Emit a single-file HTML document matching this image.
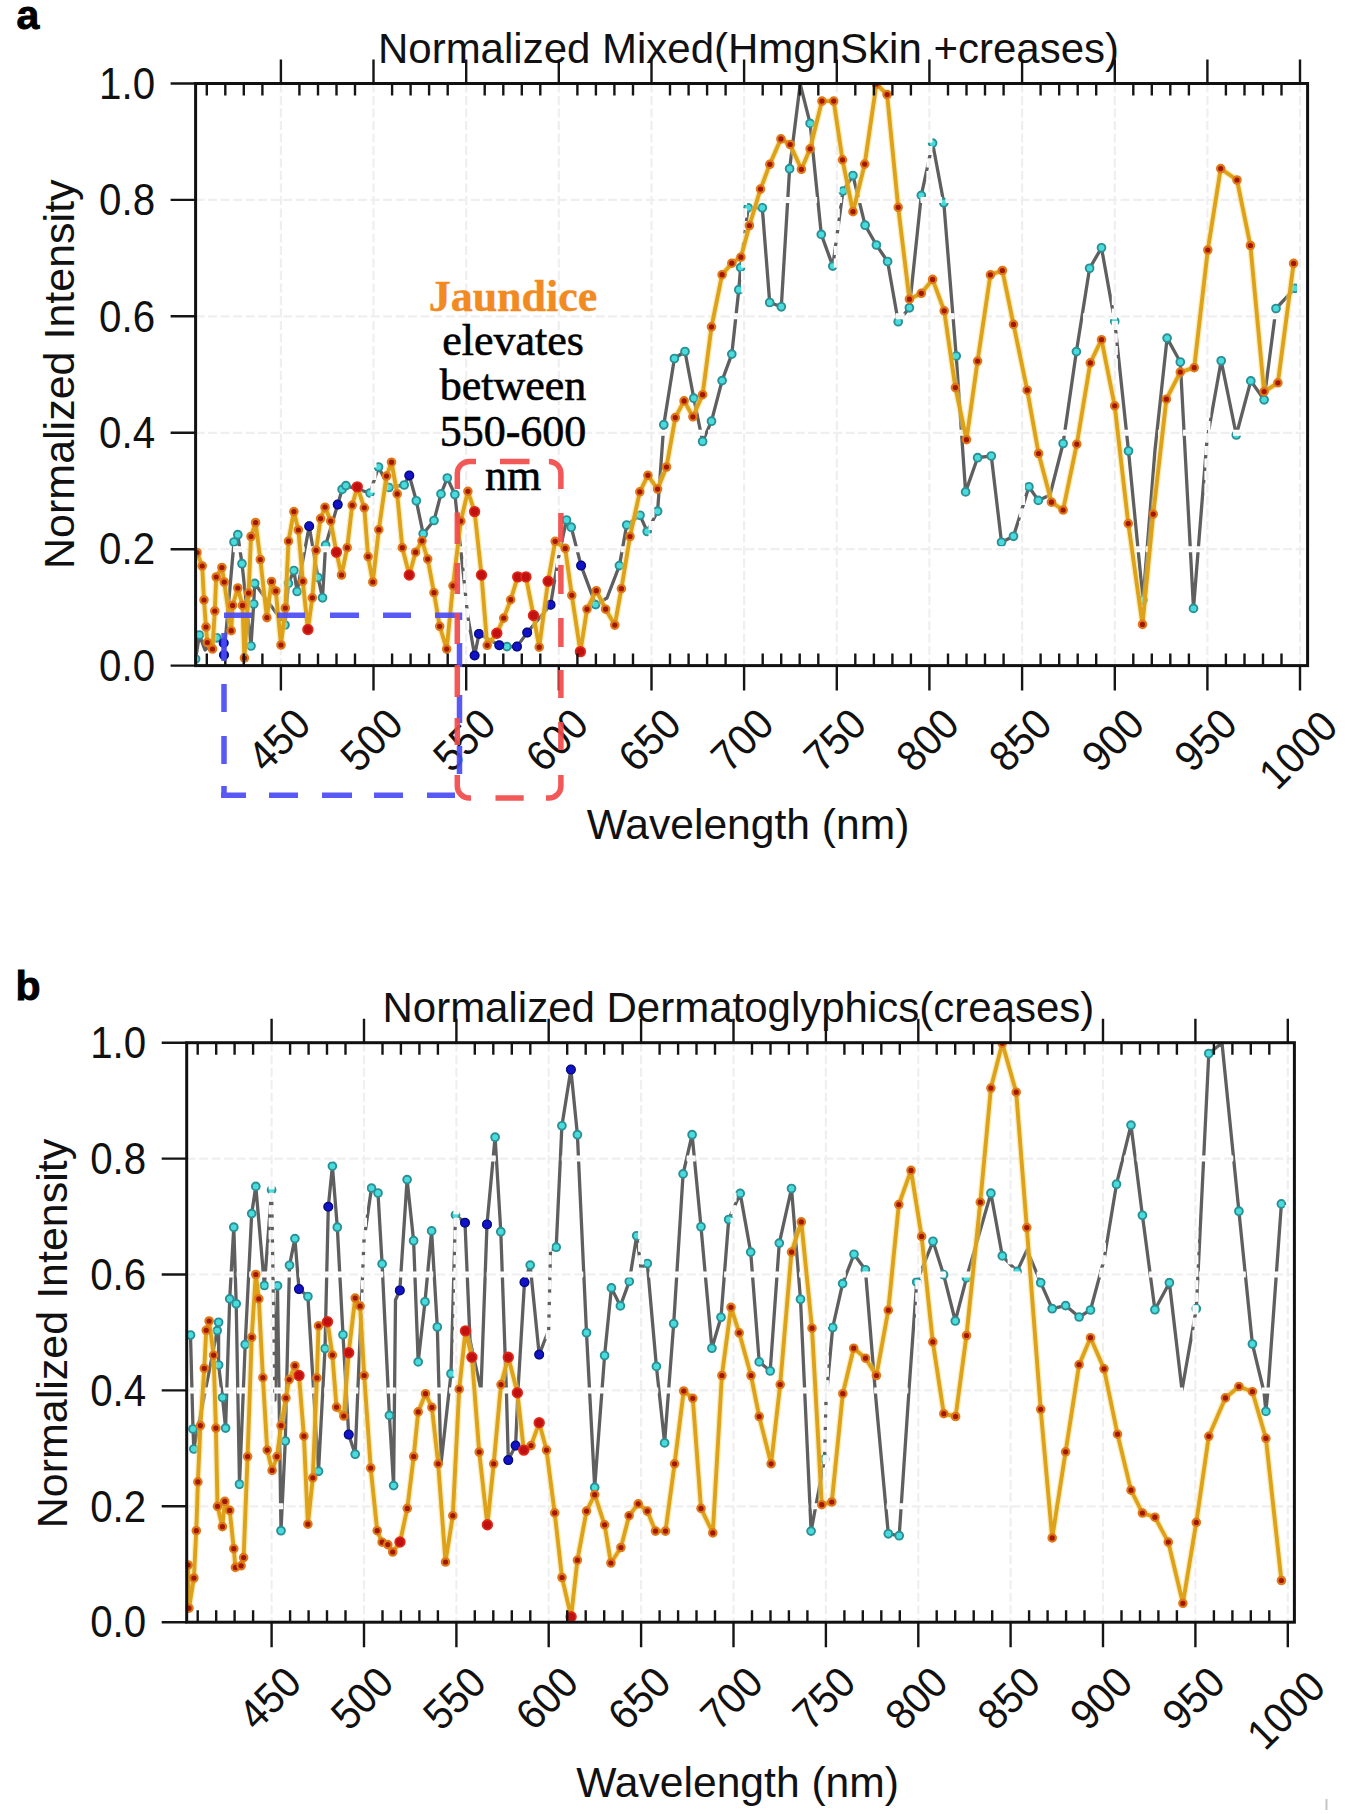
<!DOCTYPE html><html><head><meta charset="utf-8"><style>html,body{margin:0;padding:0;background:#fff;width:1350px;height:1814px;overflow:hidden}svg{display:block}</style></head><body><svg width="1350" height="1814" viewBox="0 0 1350 1814">
<style>.s{font-family:"Liberation Sans",sans-serif;font-size:42px;fill:#111}.r{font-family:"Liberation Serif",serif;font-size:44px;fill:#000;stroke:#000;stroke-width:0.6}</style>
<rect width="1350" height="1814" fill="#fff"/>
<defs><clipPath id="clipa"><rect x="194.6" y="82.5" width="1114.0" height="584.1"/></clipPath><clipPath id="clipb"><rect x="185.7" y="1041.7" width="1109.7" height="581.5"/></clipPath></defs>
<g clip-path="url(#clipa)">
<path d="M195.6 659.0 L199.4 635.0 L205.0 650.0 L216.7 637.8 L223.7 643.0 L224.0 655.0 L234.0 542.0 L237.8 534.7 L242.0 563.7 L251.0 646.0 L253.7 604.0 L254.7 583.4 L285.0 625.0 L288.4 583.4 L293.9 570.5 L297.1 591.5 L309.2 526.2 L318.0 577.5 L322.5 597.8 L325.6 545.2 L337.7 504.6 L342.1 489.4 L345.9 485.6 L370.0 493.0 L378.5 467.0 L389.0 487.5 L404.2 485.0 L409.3 475.5 L416.3 500.8 L423.2 533.8 L434.0 520.5 L441.0 493.9 L447.3 478.0 L454.9 494.5 L464.0 580.0 L467.6 615.0 L474.6 655.5 L479.0 633.9 L499.3 645.3 L506.9 646.6 L517.0 646.6 L527.2 632.6 L550.6 604.8 L558.0 560.0 L566.5 520.0 L571.2 527.2 L581.1 565.6 L595.6 604.6 L607.0 598.0 L619.4 565.6 L626.7 525.0 L640.0 515.3 L647.2 531.5 L657.6 511.2 L663.8 424.7 L674.4 358.5 L685.0 351.5 L693.8 398.2 L702.6 441.5 L711.5 421.2 L722.1 380.6 L731.8 354.1 L738.8 289.7 L740.6 267.6 L748.1 207.8 L762.3 207.8 L769.7 302.5 L781.3 306.8 L789.6 168.7 L800.2 84.0 L810.1 123.4 L821.3 234.4 L832.8 266.1 L843.0 191.0 L852.9 175.5 L865.1 225.2 L876.4 245.0 L887.6 261.5 L898.2 321.7 L909.4 307.8 L921.3 195.4 L932.6 143.1 L943.8 202.7 L956.2 356.0 L965.6 491.9 L977.6 457.7 L991.3 456.0 L1001.5 542.3 L1013.5 536.3 L1028.9 486.8 L1038.3 500.4 L1050.0 495.0 L1063.1 443.5 L1076.4 351.6 L1089.6 268.3 L1101.5 247.8 L1114.7 321.2 L1128.5 451.0 L1143.0 600.0 L1155.0 450.0 L1167.1 338.1 L1180.3 362.0 L1193.5 608.4 L1207.0 440.0 L1221.2 360.8 L1236.3 435.0 L1250.8 380.9 L1264.1 399.8 L1276.0 308.5 L1294.9 288.3" stroke="#5f5f5f" stroke-width="3.3" fill="none" stroke-linejoin="round" />
<g fill="#4adcdc" stroke="#2a9096" stroke-width="1.9"><circle cx="195.6" cy="659.0" r="3.9"/><circle cx="199.4" cy="635.0" r="3.9"/><circle cx="216.7" cy="637.8" r="3.9"/><circle cx="223.7" cy="643.0" r="3.9"/><circle cx="224.0" cy="655.0" r="3.9"/><circle cx="234.0" cy="542.0" r="3.9"/><circle cx="237.8" cy="534.7" r="3.9"/><circle cx="242.0" cy="563.7" r="3.9"/><circle cx="251.0" cy="646.0" r="3.9"/><circle cx="253.7" cy="604.0" r="3.9"/><circle cx="254.7" cy="583.4" r="3.9"/><circle cx="285.0" cy="625.0" r="3.9"/><circle cx="288.4" cy="583.4" r="3.9"/><circle cx="293.9" cy="570.5" r="3.9"/><circle cx="297.1" cy="591.5" r="3.9"/><circle cx="309.2" cy="526.2" r="3.9"/><circle cx="318.0" cy="577.5" r="3.9"/><circle cx="322.5" cy="597.8" r="3.9"/><circle cx="325.6" cy="545.2" r="3.9"/><circle cx="337.7" cy="504.6" r="3.9"/><circle cx="342.1" cy="489.4" r="3.9"/><circle cx="345.9" cy="485.6" r="3.9"/><circle cx="370.0" cy="493.0" r="3.9"/><circle cx="378.5" cy="467.0" r="3.9"/><circle cx="389.0" cy="487.5" r="3.9"/><circle cx="404.2" cy="485.0" r="3.9"/><circle cx="409.3" cy="475.5" r="3.9"/><circle cx="416.3" cy="500.8" r="3.9"/><circle cx="423.2" cy="533.8" r="3.9"/><circle cx="434.0" cy="520.5" r="3.9"/><circle cx="441.0" cy="493.9" r="3.9"/><circle cx="447.3" cy="478.0" r="3.9"/><circle cx="454.9" cy="494.5" r="3.9"/><circle cx="474.6" cy="655.5" r="3.9"/><circle cx="479.0" cy="633.9" r="3.9"/><circle cx="499.3" cy="645.3" r="3.9"/><circle cx="506.9" cy="646.6" r="3.9"/><circle cx="517.0" cy="646.6" r="3.9"/><circle cx="527.2" cy="632.6" r="3.9"/><circle cx="550.6" cy="604.8" r="3.9"/><circle cx="566.5" cy="520.0" r="3.9"/><circle cx="571.2" cy="527.2" r="3.9"/><circle cx="581.1" cy="565.6" r="3.9"/><circle cx="595.6" cy="604.6" r="3.9"/><circle cx="619.4" cy="565.6" r="3.9"/><circle cx="626.7" cy="525.0" r="3.9"/><circle cx="640.0" cy="515.3" r="3.9"/><circle cx="647.2" cy="531.5" r="3.9"/><circle cx="657.6" cy="511.2" r="3.9"/><circle cx="663.8" cy="424.7" r="3.9"/><circle cx="674.4" cy="358.5" r="3.9"/><circle cx="685.0" cy="351.5" r="3.9"/><circle cx="693.8" cy="398.2" r="3.9"/><circle cx="702.6" cy="441.5" r="3.9"/><circle cx="711.5" cy="421.2" r="3.9"/><circle cx="722.1" cy="380.6" r="3.9"/><circle cx="731.8" cy="354.1" r="3.9"/><circle cx="738.8" cy="289.7" r="3.9"/><circle cx="740.6" cy="267.6" r="3.9"/><circle cx="748.1" cy="207.8" r="3.9"/><circle cx="762.3" cy="207.8" r="3.9"/><circle cx="769.7" cy="302.5" r="3.9"/><circle cx="781.3" cy="306.8" r="3.9"/><circle cx="789.6" cy="168.7" r="3.9"/><circle cx="810.1" cy="123.4" r="3.9"/><circle cx="821.3" cy="234.4" r="3.9"/><circle cx="832.8" cy="266.1" r="3.9"/><circle cx="843.0" cy="191.0" r="3.9"/><circle cx="852.9" cy="175.5" r="3.9"/><circle cx="865.1" cy="225.2" r="3.9"/><circle cx="876.4" cy="245.0" r="3.9"/><circle cx="887.6" cy="261.5" r="3.9"/><circle cx="898.2" cy="321.7" r="3.9"/><circle cx="909.4" cy="307.8" r="3.9"/><circle cx="921.3" cy="195.4" r="3.9"/><circle cx="932.6" cy="143.1" r="3.9"/><circle cx="943.8" cy="202.7" r="3.9"/><circle cx="956.2" cy="356.0" r="3.9"/><circle cx="965.6" cy="491.9" r="3.9"/><circle cx="977.6" cy="457.7" r="3.9"/><circle cx="991.3" cy="456.0" r="3.9"/><circle cx="1001.5" cy="542.3" r="3.9"/><circle cx="1013.5" cy="536.3" r="3.9"/><circle cx="1028.9" cy="486.8" r="3.9"/><circle cx="1038.3" cy="500.4" r="3.9"/><circle cx="1063.1" cy="443.5" r="3.9"/><circle cx="1076.4" cy="351.6" r="3.9"/><circle cx="1089.6" cy="268.3" r="3.9"/><circle cx="1101.5" cy="247.8" r="3.9"/><circle cx="1114.7" cy="321.2" r="3.9"/><circle cx="1128.5" cy="451.0" r="3.9"/><circle cx="1143.0" cy="600.0" r="3.9"/><circle cx="1167.1" cy="338.1" r="3.9"/><circle cx="1180.3" cy="362.0" r="3.9"/><circle cx="1193.5" cy="608.4" r="3.9"/><circle cx="1221.2" cy="360.8" r="3.9"/><circle cx="1236.3" cy="435.0" r="3.9"/><circle cx="1250.8" cy="380.9" r="3.9"/><circle cx="1264.1" cy="399.8" r="3.9"/><circle cx="1276.0" cy="308.5" r="3.9"/><circle cx="1294.9" cy="288.3" r="3.9"/></g>
<g fill="#1212c8" stroke="#0a0a80" stroke-width="1.4"><circle cx="223.7" cy="643.0" r="4.3"/><circle cx="224.0" cy="655.0" r="4.3"/><circle cx="309.2" cy="526.2" r="4.3"/><circle cx="337.7" cy="504.6" r="4.3"/><circle cx="409.3" cy="475.5" r="4.3"/><circle cx="474.6" cy="655.5" r="4.3"/><circle cx="479.0" cy="633.9" r="4.3"/><circle cx="499.3" cy="645.3" r="4.3"/><circle cx="517.0" cy="646.6" r="4.3"/><circle cx="527.2" cy="632.6" r="4.3"/><circle cx="550.6" cy="604.8" r="4.3"/><circle cx="581.1" cy="565.6" r="4.3"/></g>
<path d="M280.9 83.5V665.6M373.5 83.5V665.6M466.2 83.5V665.6M558.8 83.5V665.6M651.5 83.5V665.6M744.1 83.5V665.6M836.8 83.5V665.6M929.4 83.5V665.6M1022.1 83.5V665.6M1114.8 83.5V665.6M1207.4 83.5V665.6M1300.0 83.5V665.6M195.6 549.2H1307.6M195.6 432.8H1307.6M195.6 316.3H1307.6M195.6 199.9H1307.6" stroke="#fff" stroke-width="6" stroke-dasharray="9 3.5" fill="none"/>
<path d="M280.9 83.5V665.6M373.5 83.5V665.6M466.2 83.5V665.6M558.8 83.5V665.6M651.5 83.5V665.6M744.1 83.5V665.6M836.8 83.5V665.6M929.4 83.5V665.6M1022.1 83.5V665.6M1114.8 83.5V665.6M1207.4 83.5V665.6M1300.0 83.5V665.6M195.6 549.2H1307.6M195.6 432.8H1307.6M195.6 316.3H1307.6M195.6 199.9H1307.6" stroke="#efefef" stroke-width="2.2" stroke-dasharray="9 3.5" fill="none"/>
<path d="M197.0 552.5 L202.2 566.0 L204.0 600.0 L206.0 627.0 L207.3 642.5 L212.5 649.0 L214.8 611.0 L216.2 577.0 L221.9 567.5 L224.2 582.0 L231.2 630.7 L232.6 605.4 L237.8 588.0 L242.5 605.4 L244.4 658.0 L248.6 593.0 L251.0 536.5 L255.6 522.5 L260.3 559.5 L266.9 617.6 L271.5 581.5 L275.8 591.0 L281.0 645.0 L285.3 608.0 L288.5 541.2 L293.9 511.6 L298.4 530.0 L302.8 581.3 L307.9 629.5 L312.3 597.8 L316.1 550.3 L320.6 518.6 L325.0 507.2 L330.7 521.1 L336.4 552.2 L341.5 575.0 L347.2 547.7 L352.2 505.3 L357.3 486.9 L364.3 507.8 L368.1 556.6 L372.8 582.0 L378.8 529.7 L386.5 476.1 L391.5 462.2 L397.2 493.9 L402.3 547.7 L409.3 575.0 L415.6 552.2 L422.0 540.8 L427.7 559.1 L434.0 592.7 L439.7 626.3 L446.7 649.1 L453.0 585.8 L460.8 521.1 L467.9 491.3 L474.6 511.6 L481.5 575.0 L487.2 645.3 L496.8 633.3 L503.7 618.1 L510.7 599.7 L517.7 576.9 L525.9 576.9 L533.5 615.5 L539.2 647.2 L548.1 581.3 L555.2 541.3 L565.2 548.4 L571.8 595.3 L580.4 651.6 L587.0 609.2 L596.3 590.7 L605.6 609.2 L614.8 625.1 L621.4 588.7 L630.0 536.5 L639.8 491.8 L647.9 475.3 L657.6 489.1 L666.5 467.0 L675.3 417.6 L684.1 400.9 L692.9 416.8 L702.6 394.7 L711.5 326.8 L722.1 274.7 L731.8 263.2 L740.9 257.2 L749.4 225.5 L760.5 189.1 L769.8 164.3 L780.9 138.9 L790.2 144.5 L801.4 169.3 L810.1 148.8 L821.9 101.1 L833.7 101.1 L842.5 159.8 L853.0 211.7 L864.7 164.1 L876.4 84.0 L887.1 94.6 L898.2 207.3 L909.4 299.2 L921.3 293.3 L932.6 279.4 L944.2 310.8 L955.4 387.6 L966.5 439.7 L977.6 361.1 L990.4 274.8 L1002.4 270.5 L1013.5 324.4 L1027.2 390.2 L1038.6 453.5 L1051.5 502.2 L1063.1 510.0 L1076.8 444.2 L1090.3 362.9 L1101.5 339.7 L1114.7 405.8 L1128.3 523.6 L1142.5 624.4 L1153.2 514.1 L1166.4 399.2 L1180.3 372.1 L1194.2 367.7 L1207.8 250.0 L1220.7 168.6 L1237.0 180.0 L1250.4 245.5 L1264.1 391.6 L1277.9 382.8 L1293.6 263.4" stroke="#f4dc78" stroke-width="6.5" fill="none" stroke-linejoin="round" opacity="0.5"/>
<path d="M197.0 552.5 L202.2 566.0 L204.0 600.0 L206.0 627.0 L207.3 642.5 L212.5 649.0 L214.8 611.0 L216.2 577.0 L221.9 567.5 L224.2 582.0 L231.2 630.7 L232.6 605.4 L237.8 588.0 L242.5 605.4 L244.4 658.0 L248.6 593.0 L251.0 536.5 L255.6 522.5 L260.3 559.5 L266.9 617.6 L271.5 581.5 L275.8 591.0 L281.0 645.0 L285.3 608.0 L288.5 541.2 L293.9 511.6 L298.4 530.0 L302.8 581.3 L307.9 629.5 L312.3 597.8 L316.1 550.3 L320.6 518.6 L325.0 507.2 L330.7 521.1 L336.4 552.2 L341.5 575.0 L347.2 547.7 L352.2 505.3 L357.3 486.9 L364.3 507.8 L368.1 556.6 L372.8 582.0 L378.8 529.7 L386.5 476.1 L391.5 462.2 L397.2 493.9 L402.3 547.7 L409.3 575.0 L415.6 552.2 L422.0 540.8 L427.7 559.1 L434.0 592.7 L439.7 626.3 L446.7 649.1 L453.0 585.8 L460.8 521.1 L467.9 491.3 L474.6 511.6 L481.5 575.0 L487.2 645.3 L496.8 633.3 L503.7 618.1 L510.7 599.7 L517.7 576.9 L525.9 576.9 L533.5 615.5 L539.2 647.2 L548.1 581.3 L555.2 541.3 L565.2 548.4 L571.8 595.3 L580.4 651.6 L587.0 609.2 L596.3 590.7 L605.6 609.2 L614.8 625.1 L621.4 588.7 L630.0 536.5 L639.8 491.8 L647.9 475.3 L657.6 489.1 L666.5 467.0 L675.3 417.6 L684.1 400.9 L692.9 416.8 L702.6 394.7 L711.5 326.8 L722.1 274.7 L731.8 263.2 L740.9 257.2 L749.4 225.5 L760.5 189.1 L769.8 164.3 L780.9 138.9 L790.2 144.5 L801.4 169.3 L810.1 148.8 L821.9 101.1 L833.7 101.1 L842.5 159.8 L853.0 211.7 L864.7 164.1 L876.4 84.0 L887.1 94.6 L898.2 207.3 L909.4 299.2 L921.3 293.3 L932.6 279.4 L944.2 310.8 L955.4 387.6 L966.5 439.7 L977.6 361.1 L990.4 274.8 L1002.4 270.5 L1013.5 324.4 L1027.2 390.2 L1038.6 453.5 L1051.5 502.2 L1063.1 510.0 L1076.8 444.2 L1090.3 362.9 L1101.5 339.7 L1114.7 405.8 L1128.3 523.6 L1142.5 624.4 L1153.2 514.1 L1166.4 399.2 L1180.3 372.1 L1194.2 367.7 L1207.8 250.0 L1220.7 168.6 L1237.0 180.0 L1250.4 245.5 L1264.1 391.6 L1277.9 382.8 L1293.6 263.4" stroke="#dea21a" stroke-width="3.9" fill="none" stroke-linejoin="round" />
<g fill="#a01800" stroke="#e07818" stroke-width="2.2"><circle cx="197.0" cy="552.5" r="3.7"/><circle cx="202.2" cy="566.0" r="3.7"/><circle cx="204.0" cy="600.0" r="3.7"/><circle cx="206.0" cy="627.0" r="3.7"/><circle cx="207.3" cy="642.5" r="3.7"/><circle cx="212.5" cy="649.0" r="3.7"/><circle cx="214.8" cy="611.0" r="3.7"/><circle cx="216.2" cy="577.0" r="3.7"/><circle cx="221.9" cy="567.5" r="3.7"/><circle cx="224.2" cy="582.0" r="3.7"/><circle cx="231.2" cy="630.7" r="3.7"/><circle cx="232.6" cy="605.4" r="3.7"/><circle cx="237.8" cy="588.0" r="3.7"/><circle cx="242.5" cy="605.4" r="3.7"/><circle cx="244.4" cy="658.0" r="3.7"/><circle cx="248.6" cy="593.0" r="3.7"/><circle cx="251.0" cy="536.5" r="3.7"/><circle cx="255.6" cy="522.5" r="3.7"/><circle cx="260.3" cy="559.5" r="3.7"/><circle cx="266.9" cy="617.6" r="3.7"/><circle cx="271.5" cy="581.5" r="3.7"/><circle cx="275.8" cy="591.0" r="3.7"/><circle cx="281.0" cy="645.0" r="3.7"/><circle cx="285.3" cy="608.0" r="3.7"/><circle cx="288.5" cy="541.2" r="3.7"/><circle cx="293.9" cy="511.6" r="3.7"/><circle cx="298.4" cy="530.0" r="3.7"/><circle cx="302.8" cy="581.3" r="3.7"/><circle cx="307.9" cy="629.5" r="3.7"/><circle cx="312.3" cy="597.8" r="3.7"/><circle cx="316.1" cy="550.3" r="3.7"/><circle cx="320.6" cy="518.6" r="3.7"/><circle cx="325.0" cy="507.2" r="3.7"/><circle cx="330.7" cy="521.1" r="3.7"/><circle cx="336.4" cy="552.2" r="3.7"/><circle cx="341.5" cy="575.0" r="3.7"/><circle cx="347.2" cy="547.7" r="3.7"/><circle cx="352.2" cy="505.3" r="3.7"/><circle cx="357.3" cy="486.9" r="3.7"/><circle cx="364.3" cy="507.8" r="3.7"/><circle cx="368.1" cy="556.6" r="3.7"/><circle cx="372.8" cy="582.0" r="3.7"/><circle cx="378.8" cy="529.7" r="3.7"/><circle cx="386.5" cy="476.1" r="3.7"/><circle cx="391.5" cy="462.2" r="3.7"/><circle cx="397.2" cy="493.9" r="3.7"/><circle cx="402.3" cy="547.7" r="3.7"/><circle cx="409.3" cy="575.0" r="3.7"/><circle cx="415.6" cy="552.2" r="3.7"/><circle cx="422.0" cy="540.8" r="3.7"/><circle cx="427.7" cy="559.1" r="3.7"/><circle cx="434.0" cy="592.7" r="3.7"/><circle cx="439.7" cy="626.3" r="3.7"/><circle cx="446.7" cy="649.1" r="3.7"/><circle cx="453.0" cy="585.8" r="3.7"/><circle cx="460.8" cy="521.1" r="3.7"/><circle cx="467.9" cy="491.3" r="3.7"/><circle cx="474.6" cy="511.6" r="3.7"/><circle cx="481.5" cy="575.0" r="3.7"/><circle cx="487.2" cy="645.3" r="3.7"/><circle cx="496.8" cy="633.3" r="3.7"/><circle cx="503.7" cy="618.1" r="3.7"/><circle cx="510.7" cy="599.7" r="3.7"/><circle cx="517.7" cy="576.9" r="3.7"/><circle cx="525.9" cy="576.9" r="3.7"/><circle cx="533.5" cy="615.5" r="3.7"/><circle cx="539.2" cy="647.2" r="3.7"/><circle cx="548.1" cy="581.3" r="3.7"/><circle cx="555.2" cy="541.3" r="3.7"/><circle cx="565.2" cy="548.4" r="3.7"/><circle cx="571.8" cy="595.3" r="3.7"/><circle cx="580.4" cy="651.6" r="3.7"/><circle cx="587.0" cy="609.2" r="3.7"/><circle cx="596.3" cy="590.7" r="3.7"/><circle cx="605.6" cy="609.2" r="3.7"/><circle cx="614.8" cy="625.1" r="3.7"/><circle cx="621.4" cy="588.7" r="3.7"/><circle cx="630.0" cy="536.5" r="3.7"/><circle cx="639.8" cy="491.8" r="3.7"/><circle cx="647.9" cy="475.3" r="3.7"/><circle cx="657.6" cy="489.1" r="3.7"/><circle cx="666.5" cy="467.0" r="3.7"/><circle cx="675.3" cy="417.6" r="3.7"/><circle cx="684.1" cy="400.9" r="3.7"/><circle cx="692.9" cy="416.8" r="3.7"/><circle cx="702.6" cy="394.7" r="3.7"/><circle cx="711.5" cy="326.8" r="3.7"/><circle cx="722.1" cy="274.7" r="3.7"/><circle cx="731.8" cy="263.2" r="3.7"/><circle cx="740.9" cy="257.2" r="3.7"/><circle cx="749.4" cy="225.5" r="3.7"/><circle cx="760.5" cy="189.1" r="3.7"/><circle cx="769.8" cy="164.3" r="3.7"/><circle cx="780.9" cy="138.9" r="3.7"/><circle cx="790.2" cy="144.5" r="3.7"/><circle cx="801.4" cy="169.3" r="3.7"/><circle cx="810.1" cy="148.8" r="3.7"/><circle cx="821.9" cy="101.1" r="3.7"/><circle cx="833.7" cy="101.1" r="3.7"/><circle cx="842.5" cy="159.8" r="3.7"/><circle cx="853.0" cy="211.7" r="3.7"/><circle cx="864.7" cy="164.1" r="3.7"/><circle cx="876.4" cy="84.0" r="3.7"/><circle cx="887.1" cy="94.6" r="3.7"/><circle cx="898.2" cy="207.3" r="3.7"/><circle cx="909.4" cy="299.2" r="3.7"/><circle cx="921.3" cy="293.3" r="3.7"/><circle cx="932.6" cy="279.4" r="3.7"/><circle cx="944.2" cy="310.8" r="3.7"/><circle cx="955.4" cy="387.6" r="3.7"/><circle cx="966.5" cy="439.7" r="3.7"/><circle cx="977.6" cy="361.1" r="3.7"/><circle cx="990.4" cy="274.8" r="3.7"/><circle cx="1002.4" cy="270.5" r="3.7"/><circle cx="1013.5" cy="324.4" r="3.7"/><circle cx="1027.2" cy="390.2" r="3.7"/><circle cx="1038.6" cy="453.5" r="3.7"/><circle cx="1051.5" cy="502.2" r="3.7"/><circle cx="1063.1" cy="510.0" r="3.7"/><circle cx="1076.8" cy="444.2" r="3.7"/><circle cx="1090.3" cy="362.9" r="3.7"/><circle cx="1101.5" cy="339.7" r="3.7"/><circle cx="1114.7" cy="405.8" r="3.7"/><circle cx="1128.3" cy="523.6" r="3.7"/><circle cx="1142.5" cy="624.4" r="3.7"/><circle cx="1153.2" cy="514.1" r="3.7"/><circle cx="1166.4" cy="399.2" r="3.7"/><circle cx="1180.3" cy="372.1" r="3.7"/><circle cx="1194.2" cy="367.7" r="3.7"/><circle cx="1207.8" cy="250.0" r="3.7"/><circle cx="1220.7" cy="168.6" r="3.7"/><circle cx="1237.0" cy="180.0" r="3.7"/><circle cx="1250.4" cy="245.5" r="3.7"/><circle cx="1264.1" cy="391.6" r="3.7"/><circle cx="1277.9" cy="382.8" r="3.7"/><circle cx="1293.6" cy="263.4" r="3.7"/></g>
<g fill="#c01010" stroke="#e02818" stroke-width="1.8"><circle cx="307.9" cy="629.5" r="4.8"/><circle cx="336.4" cy="552.2" r="4.8"/><circle cx="357.3" cy="486.9" r="4.8"/><circle cx="409.3" cy="575.0" r="4.8"/><circle cx="474.6" cy="511.6" r="4.8"/><circle cx="481.5" cy="575.0" r="4.8"/><circle cx="496.8" cy="633.3" r="4.8"/><circle cx="517.7" cy="576.9" r="4.8"/><circle cx="525.9" cy="576.9" r="4.8"/><circle cx="533.5" cy="615.5" r="4.8"/><circle cx="548.1" cy="581.3" r="4.8"/><circle cx="580.4" cy="651.6" r="4.8"/></g>
</g>
<g clip-path="url(#clipb)">
<path d="M190.5 1335.0 L193.0 1429.0 L193.8 1449.0 L217.2 1330.6 L218.6 1322.3 L218.6 1365.0 L222.5 1397.5 L225.6 1428.1 L229.7 1298.9 L233.8 1227.2 L236.2 1303.8 L239.5 1484.3 L245.2 1344.5 L251.7 1213.6 L255.8 1186.4 L264.4 1285.5 L271.6 1190.0 L275.0 1400.0 L277.5 1285.8 L281.0 1530.7 L285.3 1441.0 L289.5 1265.3 L294.9 1238.6 L299.0 1289.1 L307.9 1296.5 L318.5 1471.3 L325.0 1348.6 L328.3 1206.8 L332.4 1166.1 L337.3 1227.2 L343.0 1334.8 L348.7 1434.6 L355.2 1454.2 L362.0 1290.0 L364.0 1240.0 L371.5 1188.1 L378.0 1193.0 L382.1 1263.9 L389.4 1415.4 L393.6 1485.6 L395.5 1300.0 L399.8 1290.4 L407.1 1179.6 L413.6 1240.7 L418.2 1361.9 L425.0 1301.8 L431.6 1230.9 L437.3 1327.0 L441.0 1464.0 L451.0 1373.7 L455.5 1215.0 L465.0 1222.8 L470.0 1340.0 L481.0 1390.0 L487.0 1224.4 L495.1 1137.2 L500.8 1231.7 L506.5 1394.6 L508.3 1460.1 L515.6 1445.6 L518.0 1390.0 L524.5 1282.2 L530.2 1265.1 L539.2 1354.6 L548.7 1330.0 L550.5 1250.0 L556.2 1247.2 L561.9 1125.8 L570.9 1069.6 L577.4 1134.7 L586.5 1332.8 L594.7 1487.4 L604.6 1355.5 L611.4 1287.9 L620.4 1305.9 L629.3 1281.4 L636.7 1235.8 L641.0 1268.0 L647.3 1263.5 L656.4 1366.4 L664.6 1442.9 L673.7 1323.7 L683.1 1173.9 L692.1 1134.7 L701.0 1226.8 L711.9 1348.2 L721.0 1317.3 L728.7 1219.5 L740.2 1193.4 L750.7 1252.1 L759.2 1361.9 L770.2 1371.0 L779.3 1243.1 L791.5 1188.5 L800.5 1299.3 L811.1 1531.1 L824.6 1459.2 L826.0 1400.0 L832.7 1327.5 L842.6 1283.6 L854.0 1254.3 L865.4 1269.8 L876.0 1400.0 L888.3 1533.8 L899.2 1535.7 L909.0 1390.0 L916.7 1282.0 L933.0 1241.3 L943.6 1274.7 L955.3 1321.0 L966.5 1277.9 L990.9 1193.2 L1002.3 1255.9 L1017.0 1271.4 L1027.0 1250.0 L1040.7 1282.7 L1052.2 1308.7 L1065.6 1305.6 L1079.1 1317.0 L1090.5 1310.0 L1104.0 1260.0 L1116.5 1184.2 L1131.0 1125.1 L1142.4 1215.3 L1154.9 1309.7 L1169.4 1282.7 L1182.0 1390.0 L1196.3 1308.7 L1208.8 1053.5 L1222.0 1043.0 L1238.9 1211.2 L1252.4 1344.0 L1264.0 1392.0 L1265.9 1411.4 L1268.0 1390.0 L1281.4 1203.9" stroke="#5f5f5f" stroke-width="3.3" fill="none" stroke-linejoin="round" />
<g fill="#4adcdc" stroke="#2a9096" stroke-width="1.9"><circle cx="190.5" cy="1335.0" r="3.9"/><circle cx="193.0" cy="1429.0" r="3.9"/><circle cx="193.8" cy="1449.0" r="3.9"/><circle cx="217.2" cy="1330.6" r="3.9"/><circle cx="218.6" cy="1322.3" r="3.9"/><circle cx="218.6" cy="1365.0" r="3.9"/><circle cx="222.5" cy="1397.5" r="3.9"/><circle cx="225.6" cy="1428.1" r="3.9"/><circle cx="229.7" cy="1298.9" r="3.9"/><circle cx="233.8" cy="1227.2" r="3.9"/><circle cx="236.2" cy="1303.8" r="3.9"/><circle cx="239.5" cy="1484.3" r="3.9"/><circle cx="245.2" cy="1344.5" r="3.9"/><circle cx="251.7" cy="1213.6" r="3.9"/><circle cx="255.8" cy="1186.4" r="3.9"/><circle cx="264.4" cy="1285.5" r="3.9"/><circle cx="271.6" cy="1190.0" r="3.9"/><circle cx="277.5" cy="1285.8" r="3.9"/><circle cx="281.0" cy="1530.7" r="3.9"/><circle cx="285.3" cy="1441.0" r="3.9"/><circle cx="289.5" cy="1265.3" r="3.9"/><circle cx="294.9" cy="1238.6" r="3.9"/><circle cx="299.0" cy="1289.1" r="3.9"/><circle cx="307.9" cy="1296.5" r="3.9"/><circle cx="318.5" cy="1471.3" r="3.9"/><circle cx="325.0" cy="1348.6" r="3.9"/><circle cx="328.3" cy="1206.8" r="3.9"/><circle cx="332.4" cy="1166.1" r="3.9"/><circle cx="337.3" cy="1227.2" r="3.9"/><circle cx="343.0" cy="1334.8" r="3.9"/><circle cx="348.7" cy="1434.6" r="3.9"/><circle cx="355.2" cy="1454.2" r="3.9"/><circle cx="371.5" cy="1188.1" r="3.9"/><circle cx="378.0" cy="1193.0" r="3.9"/><circle cx="382.1" cy="1263.9" r="3.9"/><circle cx="389.4" cy="1415.4" r="3.9"/><circle cx="393.6" cy="1485.6" r="3.9"/><circle cx="399.8" cy="1290.4" r="3.9"/><circle cx="407.1" cy="1179.6" r="3.9"/><circle cx="413.6" cy="1240.7" r="3.9"/><circle cx="418.2" cy="1361.9" r="3.9"/><circle cx="425.0" cy="1301.8" r="3.9"/><circle cx="431.6" cy="1230.9" r="3.9"/><circle cx="437.3" cy="1327.0" r="3.9"/><circle cx="451.0" cy="1373.7" r="3.9"/><circle cx="455.5" cy="1215.0" r="3.9"/><circle cx="465.0" cy="1222.8" r="3.9"/><circle cx="487.0" cy="1224.4" r="3.9"/><circle cx="495.1" cy="1137.2" r="3.9"/><circle cx="500.8" cy="1231.7" r="3.9"/><circle cx="508.3" cy="1460.1" r="3.9"/><circle cx="515.6" cy="1445.6" r="3.9"/><circle cx="524.5" cy="1282.2" r="3.9"/><circle cx="530.2" cy="1265.1" r="3.9"/><circle cx="539.2" cy="1354.6" r="3.9"/><circle cx="556.2" cy="1247.2" r="3.9"/><circle cx="561.9" cy="1125.8" r="3.9"/><circle cx="570.9" cy="1069.6" r="3.9"/><circle cx="577.4" cy="1134.7" r="3.9"/><circle cx="586.5" cy="1332.8" r="3.9"/><circle cx="594.7" cy="1487.4" r="3.9"/><circle cx="604.6" cy="1355.5" r="3.9"/><circle cx="611.4" cy="1287.9" r="3.9"/><circle cx="620.4" cy="1305.9" r="3.9"/><circle cx="629.3" cy="1281.4" r="3.9"/><circle cx="636.7" cy="1235.8" r="3.9"/><circle cx="647.3" cy="1263.5" r="3.9"/><circle cx="656.4" cy="1366.4" r="3.9"/><circle cx="664.6" cy="1442.9" r="3.9"/><circle cx="673.7" cy="1323.7" r="3.9"/><circle cx="683.1" cy="1173.9" r="3.9"/><circle cx="692.1" cy="1134.7" r="3.9"/><circle cx="701.0" cy="1226.8" r="3.9"/><circle cx="711.9" cy="1348.2" r="3.9"/><circle cx="721.0" cy="1317.3" r="3.9"/><circle cx="728.7" cy="1219.5" r="3.9"/><circle cx="740.2" cy="1193.4" r="3.9"/><circle cx="750.7" cy="1252.1" r="3.9"/><circle cx="759.2" cy="1361.9" r="3.9"/><circle cx="770.2" cy="1371.0" r="3.9"/><circle cx="779.3" cy="1243.1" r="3.9"/><circle cx="791.5" cy="1188.5" r="3.9"/><circle cx="800.5" cy="1299.3" r="3.9"/><circle cx="811.1" cy="1531.1" r="3.9"/><circle cx="824.6" cy="1459.2" r="3.9"/><circle cx="832.7" cy="1327.5" r="3.9"/><circle cx="842.6" cy="1283.6" r="3.9"/><circle cx="854.0" cy="1254.3" r="3.9"/><circle cx="865.4" cy="1269.8" r="3.9"/><circle cx="888.3" cy="1533.8" r="3.9"/><circle cx="899.2" cy="1535.7" r="3.9"/><circle cx="916.7" cy="1282.0" r="3.9"/><circle cx="933.0" cy="1241.3" r="3.9"/><circle cx="943.6" cy="1274.7" r="3.9"/><circle cx="955.3" cy="1321.0" r="3.9"/><circle cx="966.5" cy="1277.9" r="3.9"/><circle cx="990.9" cy="1193.2" r="3.9"/><circle cx="1002.3" cy="1255.9" r="3.9"/><circle cx="1017.0" cy="1271.4" r="3.9"/><circle cx="1040.7" cy="1282.7" r="3.9"/><circle cx="1052.2" cy="1308.7" r="3.9"/><circle cx="1065.6" cy="1305.6" r="3.9"/><circle cx="1079.1" cy="1317.0" r="3.9"/><circle cx="1090.5" cy="1310.0" r="3.9"/><circle cx="1116.5" cy="1184.2" r="3.9"/><circle cx="1131.0" cy="1125.1" r="3.9"/><circle cx="1142.4" cy="1215.3" r="3.9"/><circle cx="1154.9" cy="1309.7" r="3.9"/><circle cx="1169.4" cy="1282.7" r="3.9"/><circle cx="1196.3" cy="1308.7" r="3.9"/><circle cx="1208.8" cy="1053.5" r="3.9"/><circle cx="1238.9" cy="1211.2" r="3.9"/><circle cx="1252.4" cy="1344.0" r="3.9"/><circle cx="1265.9" cy="1411.4" r="3.9"/><circle cx="1281.4" cy="1203.9" r="3.9"/></g>
<g fill="#1212c8" stroke="#0a0a80" stroke-width="1.4"><circle cx="299.0" cy="1289.1" r="4.3"/><circle cx="328.3" cy="1206.8" r="4.3"/><circle cx="348.7" cy="1434.6" r="4.3"/><circle cx="399.8" cy="1290.4" r="4.3"/><circle cx="465.0" cy="1222.8" r="4.3"/><circle cx="487.0" cy="1224.4" r="4.3"/><circle cx="508.3" cy="1460.1" r="4.3"/><circle cx="515.6" cy="1445.6" r="4.3"/><circle cx="524.5" cy="1282.2" r="4.3"/><circle cx="539.2" cy="1354.6" r="4.3"/><circle cx="570.9" cy="1069.6" r="4.3"/></g>
<path d="M271.6 1042.7V1622.2M364.0 1042.7V1622.2M456.4 1042.7V1622.2M548.7 1042.7V1622.2M641.1 1042.7V1622.2M733.5 1042.7V1622.2M825.9 1042.7V1622.2M918.3 1042.7V1622.2M1010.6 1042.7V1622.2M1103.0 1042.7V1622.2M1195.4 1042.7V1622.2M1287.8 1042.7V1622.2M186.7 1506.3H1294.4M186.7 1390.4H1294.4M186.7 1274.5H1294.4M186.7 1158.6H1294.4" stroke="#fff" stroke-width="6" stroke-dasharray="9 3.5" fill="none"/>
<path d="M271.6 1042.7V1622.2M364.0 1042.7V1622.2M456.4 1042.7V1622.2M548.7 1042.7V1622.2M641.1 1042.7V1622.2M733.5 1042.7V1622.2M825.9 1042.7V1622.2M918.3 1042.7V1622.2M1010.6 1042.7V1622.2M1103.0 1042.7V1622.2M1195.4 1042.7V1622.2M1287.8 1042.7V1622.2M186.7 1506.3H1294.4M186.7 1390.4H1294.4M186.7 1274.5H1294.4M186.7 1158.6H1294.4" stroke="#efefef" stroke-width="2.2" stroke-dasharray="9 3.5" fill="none"/>
<path d="M188.1 1565.0 L189.0 1608.2 L193.9 1578.0 L196.3 1530.7 L197.9 1481.9 L200.4 1425.6 L204.3 1368.3 L206.2 1330.3 L209.1 1321.0 L213.6 1355.2 L215.9 1428.1 L217.5 1506.3 L222.4 1526.7 L224.8 1501.4 L229.7 1510.4 L233.8 1548.7 L235.4 1567.4 L241.1 1565.8 L243.6 1557.6 L247.6 1456.6 L251.7 1337.3 L255.8 1274.5 L258.8 1298.9 L262.9 1377.7 L267.2 1450.1 L272.1 1470.4 L277.0 1456.6 L281.0 1425.6 L285.9 1398.0 L289.2 1379.6 L294.9 1365.7 L299.0 1375.5 L303.9 1436.2 L307.9 1524.2 L312.8 1477.8 L316.9 1377.9 L318.5 1325.8 L327.5 1321.7 L332.4 1355.1 L336.5 1407.1 L343.8 1416.0 L348.7 1352.7 L355.2 1298.1 L360.1 1306.2 L364.2 1375.5 L370.7 1468.0 L377.2 1530.7 L382.1 1542.2 L387.8 1544.6 L392.7 1552.0 L400.0 1542.0 L407.3 1508.4 L413.7 1456.5 L418.2 1411.9 L425.5 1393.7 L431.9 1407.4 L438.2 1463.8 L445.5 1562.0 L452.8 1515.7 L459.2 1389.2 L465.5 1330.9 L471.9 1357.3 L479.2 1452.0 L487.4 1524.8 L493.7 1463.8 L501.0 1384.6 L508.3 1357.3 L517.4 1392.8 L523.8 1450.1 L531.0 1445.6 L539.2 1422.8 L546.5 1450.1 L554.7 1512.9 L562.0 1577.5 L571.1 1616.7 L577.4 1560.2 L586.5 1511.1 L594.7 1494.7 L604.6 1524.8 L610.9 1563.0 L620.9 1547.5 L629.1 1515.7 L638.2 1503.8 L647.3 1511.1 L655.5 1531.1 L665.5 1531.1 L674.6 1463.8 L683.7 1391.0 L692.8 1398.3 L701.0 1508.4 L712.8 1532.9 L721.9 1375.5 L731.0 1307.3 L739.2 1332.8 L751.0 1375.5 L759.2 1416.5 L771.1 1463.8 L780.2 1384.6 L791.5 1252.1 L801.3 1221.9 L812.0 1328.2 L821.8 1504.7 L831.8 1502.0 L842.8 1393.7 L853.7 1348.2 L865.5 1358.2 L876.4 1375.5 L888.3 1310.2 L898.8 1204.6 L911.0 1170.4 L921.6 1236.4 L932.8 1341.9 L943.8 1413.7 L955.6 1416.5 L966.5 1335.5 L980.3 1202.2 L990.9 1088.1 L1002.3 1043.3 L1016.2 1092.2 L1026.8 1227.6 L1040.7 1409.3 L1052.2 1537.9 L1065.6 1451.8 L1079.1 1364.7 L1090.5 1337.7 L1104.0 1368.8 L1117.5 1434.2 L1131.0 1490.2 L1142.4 1513.0 L1154.9 1517.2 L1168.3 1542.1 L1182.9 1603.3 L1196.3 1522.4 L1208.8 1436.3 L1225.4 1397.9 L1238.9 1386.5 L1252.4 1391.7 L1265.9 1438.3 L1281.4 1580.5" stroke="#f4dc78" stroke-width="6.5" fill="none" stroke-linejoin="round" opacity="0.5"/>
<path d="M188.1 1565.0 L189.0 1608.2 L193.9 1578.0 L196.3 1530.7 L197.9 1481.9 L200.4 1425.6 L204.3 1368.3 L206.2 1330.3 L209.1 1321.0 L213.6 1355.2 L215.9 1428.1 L217.5 1506.3 L222.4 1526.7 L224.8 1501.4 L229.7 1510.4 L233.8 1548.7 L235.4 1567.4 L241.1 1565.8 L243.6 1557.6 L247.6 1456.6 L251.7 1337.3 L255.8 1274.5 L258.8 1298.9 L262.9 1377.7 L267.2 1450.1 L272.1 1470.4 L277.0 1456.6 L281.0 1425.6 L285.9 1398.0 L289.2 1379.6 L294.9 1365.7 L299.0 1375.5 L303.9 1436.2 L307.9 1524.2 L312.8 1477.8 L316.9 1377.9 L318.5 1325.8 L327.5 1321.7 L332.4 1355.1 L336.5 1407.1 L343.8 1416.0 L348.7 1352.7 L355.2 1298.1 L360.1 1306.2 L364.2 1375.5 L370.7 1468.0 L377.2 1530.7 L382.1 1542.2 L387.8 1544.6 L392.7 1552.0 L400.0 1542.0 L407.3 1508.4 L413.7 1456.5 L418.2 1411.9 L425.5 1393.7 L431.9 1407.4 L438.2 1463.8 L445.5 1562.0 L452.8 1515.7 L459.2 1389.2 L465.5 1330.9 L471.9 1357.3 L479.2 1452.0 L487.4 1524.8 L493.7 1463.8 L501.0 1384.6 L508.3 1357.3 L517.4 1392.8 L523.8 1450.1 L531.0 1445.6 L539.2 1422.8 L546.5 1450.1 L554.7 1512.9 L562.0 1577.5 L571.1 1616.7 L577.4 1560.2 L586.5 1511.1 L594.7 1494.7 L604.6 1524.8 L610.9 1563.0 L620.9 1547.5 L629.1 1515.7 L638.2 1503.8 L647.3 1511.1 L655.5 1531.1 L665.5 1531.1 L674.6 1463.8 L683.7 1391.0 L692.8 1398.3 L701.0 1508.4 L712.8 1532.9 L721.9 1375.5 L731.0 1307.3 L739.2 1332.8 L751.0 1375.5 L759.2 1416.5 L771.1 1463.8 L780.2 1384.6 L791.5 1252.1 L801.3 1221.9 L812.0 1328.2 L821.8 1504.7 L831.8 1502.0 L842.8 1393.7 L853.7 1348.2 L865.5 1358.2 L876.4 1375.5 L888.3 1310.2 L898.8 1204.6 L911.0 1170.4 L921.6 1236.4 L932.8 1341.9 L943.8 1413.7 L955.6 1416.5 L966.5 1335.5 L980.3 1202.2 L990.9 1088.1 L1002.3 1043.3 L1016.2 1092.2 L1026.8 1227.6 L1040.7 1409.3 L1052.2 1537.9 L1065.6 1451.8 L1079.1 1364.7 L1090.5 1337.7 L1104.0 1368.8 L1117.5 1434.2 L1131.0 1490.2 L1142.4 1513.0 L1154.9 1517.2 L1168.3 1542.1 L1182.9 1603.3 L1196.3 1522.4 L1208.8 1436.3 L1225.4 1397.9 L1238.9 1386.5 L1252.4 1391.7 L1265.9 1438.3 L1281.4 1580.5" stroke="#dea21a" stroke-width="3.9" fill="none" stroke-linejoin="round" />
<g fill="#a01800" stroke="#e07818" stroke-width="2.2"><circle cx="188.1" cy="1565.0" r="3.7"/><circle cx="189.0" cy="1608.2" r="3.7"/><circle cx="193.9" cy="1578.0" r="3.7"/><circle cx="196.3" cy="1530.7" r="3.7"/><circle cx="197.9" cy="1481.9" r="3.7"/><circle cx="200.4" cy="1425.6" r="3.7"/><circle cx="204.3" cy="1368.3" r="3.7"/><circle cx="206.2" cy="1330.3" r="3.7"/><circle cx="209.1" cy="1321.0" r="3.7"/><circle cx="213.6" cy="1355.2" r="3.7"/><circle cx="215.9" cy="1428.1" r="3.7"/><circle cx="217.5" cy="1506.3" r="3.7"/><circle cx="222.4" cy="1526.7" r="3.7"/><circle cx="224.8" cy="1501.4" r="3.7"/><circle cx="229.7" cy="1510.4" r="3.7"/><circle cx="233.8" cy="1548.7" r="3.7"/><circle cx="235.4" cy="1567.4" r="3.7"/><circle cx="241.1" cy="1565.8" r="3.7"/><circle cx="243.6" cy="1557.6" r="3.7"/><circle cx="247.6" cy="1456.6" r="3.7"/><circle cx="251.7" cy="1337.3" r="3.7"/><circle cx="255.8" cy="1274.5" r="3.7"/><circle cx="258.8" cy="1298.9" r="3.7"/><circle cx="262.9" cy="1377.7" r="3.7"/><circle cx="267.2" cy="1450.1" r="3.7"/><circle cx="272.1" cy="1470.4" r="3.7"/><circle cx="277.0" cy="1456.6" r="3.7"/><circle cx="281.0" cy="1425.6" r="3.7"/><circle cx="285.9" cy="1398.0" r="3.7"/><circle cx="289.2" cy="1379.6" r="3.7"/><circle cx="294.9" cy="1365.7" r="3.7"/><circle cx="299.0" cy="1375.5" r="3.7"/><circle cx="303.9" cy="1436.2" r="3.7"/><circle cx="307.9" cy="1524.2" r="3.7"/><circle cx="312.8" cy="1477.8" r="3.7"/><circle cx="316.9" cy="1377.9" r="3.7"/><circle cx="318.5" cy="1325.8" r="3.7"/><circle cx="327.5" cy="1321.7" r="3.7"/><circle cx="332.4" cy="1355.1" r="3.7"/><circle cx="336.5" cy="1407.1" r="3.7"/><circle cx="343.8" cy="1416.0" r="3.7"/><circle cx="348.7" cy="1352.7" r="3.7"/><circle cx="355.2" cy="1298.1" r="3.7"/><circle cx="360.1" cy="1306.2" r="3.7"/><circle cx="364.2" cy="1375.5" r="3.7"/><circle cx="370.7" cy="1468.0" r="3.7"/><circle cx="377.2" cy="1530.7" r="3.7"/><circle cx="382.1" cy="1542.2" r="3.7"/><circle cx="387.8" cy="1544.6" r="3.7"/><circle cx="392.7" cy="1552.0" r="3.7"/><circle cx="400.0" cy="1542.0" r="3.7"/><circle cx="407.3" cy="1508.4" r="3.7"/><circle cx="413.7" cy="1456.5" r="3.7"/><circle cx="418.2" cy="1411.9" r="3.7"/><circle cx="425.5" cy="1393.7" r="3.7"/><circle cx="431.9" cy="1407.4" r="3.7"/><circle cx="438.2" cy="1463.8" r="3.7"/><circle cx="445.5" cy="1562.0" r="3.7"/><circle cx="452.8" cy="1515.7" r="3.7"/><circle cx="459.2" cy="1389.2" r="3.7"/><circle cx="465.5" cy="1330.9" r="3.7"/><circle cx="471.9" cy="1357.3" r="3.7"/><circle cx="479.2" cy="1452.0" r="3.7"/><circle cx="487.4" cy="1524.8" r="3.7"/><circle cx="493.7" cy="1463.8" r="3.7"/><circle cx="501.0" cy="1384.6" r="3.7"/><circle cx="508.3" cy="1357.3" r="3.7"/><circle cx="517.4" cy="1392.8" r="3.7"/><circle cx="523.8" cy="1450.1" r="3.7"/><circle cx="531.0" cy="1445.6" r="3.7"/><circle cx="539.2" cy="1422.8" r="3.7"/><circle cx="546.5" cy="1450.1" r="3.7"/><circle cx="554.7" cy="1512.9" r="3.7"/><circle cx="562.0" cy="1577.5" r="3.7"/><circle cx="571.1" cy="1616.7" r="3.7"/><circle cx="577.4" cy="1560.2" r="3.7"/><circle cx="586.5" cy="1511.1" r="3.7"/><circle cx="594.7" cy="1494.7" r="3.7"/><circle cx="604.6" cy="1524.8" r="3.7"/><circle cx="610.9" cy="1563.0" r="3.7"/><circle cx="620.9" cy="1547.5" r="3.7"/><circle cx="629.1" cy="1515.7" r="3.7"/><circle cx="638.2" cy="1503.8" r="3.7"/><circle cx="647.3" cy="1511.1" r="3.7"/><circle cx="655.5" cy="1531.1" r="3.7"/><circle cx="665.5" cy="1531.1" r="3.7"/><circle cx="674.6" cy="1463.8" r="3.7"/><circle cx="683.7" cy="1391.0" r="3.7"/><circle cx="692.8" cy="1398.3" r="3.7"/><circle cx="701.0" cy="1508.4" r="3.7"/><circle cx="712.8" cy="1532.9" r="3.7"/><circle cx="721.9" cy="1375.5" r="3.7"/><circle cx="731.0" cy="1307.3" r="3.7"/><circle cx="739.2" cy="1332.8" r="3.7"/><circle cx="751.0" cy="1375.5" r="3.7"/><circle cx="759.2" cy="1416.5" r="3.7"/><circle cx="771.1" cy="1463.8" r="3.7"/><circle cx="780.2" cy="1384.6" r="3.7"/><circle cx="791.5" cy="1252.1" r="3.7"/><circle cx="801.3" cy="1221.9" r="3.7"/><circle cx="812.0" cy="1328.2" r="3.7"/><circle cx="821.8" cy="1504.7" r="3.7"/><circle cx="831.8" cy="1502.0" r="3.7"/><circle cx="842.8" cy="1393.7" r="3.7"/><circle cx="853.7" cy="1348.2" r="3.7"/><circle cx="865.5" cy="1358.2" r="3.7"/><circle cx="876.4" cy="1375.5" r="3.7"/><circle cx="888.3" cy="1310.2" r="3.7"/><circle cx="898.8" cy="1204.6" r="3.7"/><circle cx="911.0" cy="1170.4" r="3.7"/><circle cx="921.6" cy="1236.4" r="3.7"/><circle cx="932.8" cy="1341.9" r="3.7"/><circle cx="943.8" cy="1413.7" r="3.7"/><circle cx="955.6" cy="1416.5" r="3.7"/><circle cx="966.5" cy="1335.5" r="3.7"/><circle cx="980.3" cy="1202.2" r="3.7"/><circle cx="990.9" cy="1088.1" r="3.7"/><circle cx="1002.3" cy="1043.3" r="3.7"/><circle cx="1016.2" cy="1092.2" r="3.7"/><circle cx="1026.8" cy="1227.6" r="3.7"/><circle cx="1040.7" cy="1409.3" r="3.7"/><circle cx="1052.2" cy="1537.9" r="3.7"/><circle cx="1065.6" cy="1451.8" r="3.7"/><circle cx="1079.1" cy="1364.7" r="3.7"/><circle cx="1090.5" cy="1337.7" r="3.7"/><circle cx="1104.0" cy="1368.8" r="3.7"/><circle cx="1117.5" cy="1434.2" r="3.7"/><circle cx="1131.0" cy="1490.2" r="3.7"/><circle cx="1142.4" cy="1513.0" r="3.7"/><circle cx="1154.9" cy="1517.2" r="3.7"/><circle cx="1168.3" cy="1542.1" r="3.7"/><circle cx="1182.9" cy="1603.3" r="3.7"/><circle cx="1196.3" cy="1522.4" r="3.7"/><circle cx="1208.8" cy="1436.3" r="3.7"/><circle cx="1225.4" cy="1397.9" r="3.7"/><circle cx="1238.9" cy="1386.5" r="3.7"/><circle cx="1252.4" cy="1391.7" r="3.7"/><circle cx="1265.9" cy="1438.3" r="3.7"/><circle cx="1281.4" cy="1580.5" r="3.7"/></g>
<g fill="#c01010" stroke="#e02818" stroke-width="1.8"><circle cx="299.0" cy="1375.5" r="4.8"/><circle cx="327.5" cy="1321.7" r="4.8"/><circle cx="348.7" cy="1352.7" r="4.8"/><circle cx="400.0" cy="1542.0" r="4.8"/><circle cx="465.5" cy="1330.9" r="4.8"/><circle cx="471.9" cy="1357.3" r="4.8"/><circle cx="487.4" cy="1524.8" r="4.8"/><circle cx="508.3" cy="1357.3" r="4.8"/><circle cx="517.4" cy="1392.8" r="4.8"/><circle cx="523.8" cy="1450.1" r="4.8"/><circle cx="539.2" cy="1422.8" r="4.8"/><circle cx="571.1" cy="1616.7" r="4.8"/></g>
</g>
<path d="M280.9 83.5V59.5M280.9 665.6V690.6M373.5 83.5V59.5M373.5 665.6V690.6M466.2 83.5V59.5M466.2 665.6V690.6M558.8 83.5V59.5M558.8 665.6V690.6M651.5 83.5V59.5M651.5 665.6V690.6M744.1 83.5V59.5M744.1 665.6V690.6M836.8 83.5V59.5M836.8 665.6V690.6M929.4 83.5V59.5M929.4 665.6V690.6M1022.1 83.5V59.5M1022.1 665.6V690.6M1114.8 83.5V59.5M1114.8 665.6V690.6M1207.4 83.5V59.5M1207.4 665.6V690.6M1300.0 83.5V59.5M1300.0 665.6V690.6M206.8 83.5V95.5M206.8 665.6V653.6M225.3 83.5V95.5M225.3 665.6V653.6M243.8 83.5V95.5M243.8 665.6V653.6M262.4 83.5V95.5M262.4 665.6V653.6M299.4 83.5V95.5M299.4 665.6V653.6M318.0 83.5V95.5M318.0 665.6V653.6M336.5 83.5V95.5M336.5 665.6V653.6M355.0 83.5V95.5M355.0 665.6V653.6M392.1 83.5V95.5M392.1 665.6V653.6M410.6 83.5V95.5M410.6 665.6V653.6M429.1 83.5V95.5M429.1 665.6V653.6M447.7 83.5V95.5M447.7 665.6V653.6M484.7 83.5V95.5M484.7 665.6V653.6M503.3 83.5V95.5M503.3 665.6V653.6M521.8 83.5V95.5M521.8 665.6V653.6M540.3 83.5V95.5M540.3 665.6V653.6M577.4 83.5V95.5M577.4 665.6V653.6M595.9 83.5V95.5M595.9 665.6V653.6M614.4 83.5V95.5M614.4 665.6V653.6M633.0 83.5V95.5M633.0 665.6V653.6M670.0 83.5V95.5M670.0 665.6V653.6M688.6 83.5V95.5M688.6 665.6V653.6M707.1 83.5V95.5M707.1 665.6V653.6M725.6 83.5V95.5M725.6 665.6V653.6M762.7 83.5V95.5M762.7 665.6V653.6M781.2 83.5V95.5M781.2 665.6V653.6M799.7 83.5V95.5M799.7 665.6V653.6M818.3 83.5V95.5M818.3 665.6V653.6M855.3 83.5V95.5M855.3 665.6V653.6M873.9 83.5V95.5M873.9 665.6V653.6M892.4 83.5V95.5M892.4 665.6V653.6M910.9 83.5V95.5M910.9 665.6V653.6M948.0 83.5V95.5M948.0 665.6V653.6M966.5 83.5V95.5M966.5 665.6V653.6M985.0 83.5V95.5M985.0 665.6V653.6M1003.6 83.5V95.5M1003.6 665.6V653.6M1040.6 83.5V95.5M1040.6 665.6V653.6M1059.2 83.5V95.5M1059.2 665.6V653.6M1077.7 83.5V95.5M1077.7 665.6V653.6M1096.2 83.5V95.5M1096.2 665.6V653.6M1133.3 83.5V95.5M1133.3 665.6V653.6M1151.8 83.5V95.5M1151.8 665.6V653.6M1170.3 83.5V95.5M1170.3 665.6V653.6M1188.9 83.5V95.5M1188.9 665.6V653.6M1225.9 83.5V95.5M1225.9 665.6V653.6M1244.5 83.5V95.5M1244.5 665.6V653.6M1263.0 83.5V95.5M1263.0 665.6V653.6M1281.5 83.5V95.5M1281.5 665.6V653.6M170.6 665.6H195.6M170.6 549.2H195.6M170.6 432.8H195.6M170.6 316.3H195.6M170.6 199.9H195.6M170.6 83.5H195.6" stroke="#151515" stroke-width="2.4" fill="none"/>
<rect x="195.6" y="83.5" width="1112.0" height="582.1" fill="none" stroke="#111" stroke-width="3"/>
<text transform="translate(155.1 680.8) scale(0.96 1.05)" text-anchor="end" class="s">0.0</text>
<text transform="translate(155.1 564.4) scale(0.96 1.05)" text-anchor="end" class="s">0.2</text>
<text transform="translate(155.1 448.0) scale(0.96 1.05)" text-anchor="end" class="s">0.4</text>
<text transform="translate(155.1 331.5) scale(0.96 1.05)" text-anchor="end" class="s">0.6</text>
<text transform="translate(155.1 215.1) scale(0.96 1.05)" text-anchor="end" class="s">0.8</text>
<text transform="translate(155.1 98.7) scale(0.96 1.05)" text-anchor="end" class="s">1.0</text>
<text transform="translate(278.9 740.0) rotate(-45) scale(0.95 1.02)" text-anchor="middle" dy="14.5" class="s">450</text>
<text transform="translate(371.5 740.0) rotate(-45) scale(0.95 1.02)" text-anchor="middle" dy="14.5" class="s">500</text>
<text transform="translate(464.2 740.0) rotate(-45) scale(0.95 1.02)" text-anchor="middle" dy="14.5" class="s">550</text>
<text transform="translate(556.8 740.0) rotate(-45) scale(0.95 1.02)" text-anchor="middle" dy="14.5" class="s">600</text>
<text transform="translate(649.5 740.0) rotate(-45) scale(0.95 1.02)" text-anchor="middle" dy="14.5" class="s">650</text>
<text transform="translate(742.1 740.0) rotate(-45) scale(0.95 1.02)" text-anchor="middle" dy="14.5" class="s">700</text>
<text transform="translate(834.8 740.0) rotate(-45) scale(0.95 1.02)" text-anchor="middle" dy="14.5" class="s">750</text>
<text transform="translate(927.4 740.0) rotate(-45) scale(0.95 1.02)" text-anchor="middle" dy="14.5" class="s">800</text>
<text transform="translate(1020.1 740.0) rotate(-45) scale(0.95 1.02)" text-anchor="middle" dy="14.5" class="s">850</text>
<text transform="translate(1112.8 740.0) rotate(-45) scale(0.95 1.02)" text-anchor="middle" dy="14.5" class="s">900</text>
<text transform="translate(1205.4 740.0) rotate(-45) scale(0.95 1.02)" text-anchor="middle" dy="14.5" class="s">950</text>
<text transform="translate(1298.0 750.0) rotate(-45) scale(0.95 1.02)" text-anchor="middle" dy="14.5" class="s">1000</text>
<text x="748.5" y="63.4" text-anchor="middle" class="s">Normalized Mixed(HmgnSkin +creases)</text>
<text transform="translate(74.0 374.2) rotate(-90)" text-anchor="middle" class="s" style="font-size:43px">Normalized Intensity</text>
<text x="748.0" y="839.3" text-anchor="middle" class="s" style="font-size:42.6px">Wavelength (nm)</text>
<path d="M271.6 1042.7V1018.7M271.6 1622.2V1647.2M364.0 1042.7V1018.7M364.0 1622.2V1647.2M456.4 1042.7V1018.7M456.4 1622.2V1647.2M548.7 1042.7V1018.7M548.7 1622.2V1647.2M641.1 1042.7V1018.7M641.1 1622.2V1647.2M733.5 1042.7V1018.7M733.5 1622.2V1647.2M825.9 1042.7V1018.7M825.9 1622.2V1647.2M918.3 1042.7V1018.7M918.3 1622.2V1647.2M1010.6 1042.7V1018.7M1010.6 1622.2V1647.2M1103.0 1042.7V1018.7M1103.0 1622.2V1647.2M1195.4 1042.7V1018.7M1195.4 1622.2V1647.2M1287.8 1042.7V1018.7M1287.8 1622.2V1647.2M197.7 1042.7V1054.7M197.7 1622.2V1610.2M216.2 1042.7V1054.7M216.2 1622.2V1610.2M234.6 1042.7V1054.7M234.6 1622.2V1610.2M253.1 1042.7V1054.7M253.1 1622.2V1610.2M290.1 1042.7V1054.7M290.1 1622.2V1610.2M308.6 1042.7V1054.7M308.6 1622.2V1610.2M327.0 1042.7V1054.7M327.0 1622.2V1610.2M345.5 1042.7V1054.7M345.5 1622.2V1610.2M382.5 1042.7V1054.7M382.5 1622.2V1610.2M400.9 1042.7V1054.7M400.9 1622.2V1610.2M419.4 1042.7V1054.7M419.4 1622.2V1610.2M437.9 1042.7V1054.7M437.9 1622.2V1610.2M474.8 1042.7V1054.7M474.8 1622.2V1610.2M493.3 1042.7V1054.7M493.3 1622.2V1610.2M511.8 1042.7V1054.7M511.8 1622.2V1610.2M530.3 1042.7V1054.7M530.3 1622.2V1610.2M567.2 1042.7V1054.7M567.2 1622.2V1610.2M585.7 1042.7V1054.7M585.7 1622.2V1610.2M604.2 1042.7V1054.7M604.2 1622.2V1610.2M622.6 1042.7V1054.7M622.6 1622.2V1610.2M659.6 1042.7V1054.7M659.6 1622.2V1610.2M678.1 1042.7V1054.7M678.1 1622.2V1610.2M696.5 1042.7V1054.7M696.5 1622.2V1610.2M715.0 1042.7V1054.7M715.0 1622.2V1610.2M752.0 1042.7V1054.7M752.0 1622.2V1610.2M770.5 1042.7V1054.7M770.5 1622.2V1610.2M788.9 1042.7V1054.7M788.9 1622.2V1610.2M807.4 1042.7V1054.7M807.4 1622.2V1610.2M844.4 1042.7V1054.7M844.4 1622.2V1610.2M862.8 1042.7V1054.7M862.8 1622.2V1610.2M881.3 1042.7V1054.7M881.3 1622.2V1610.2M899.8 1042.7V1054.7M899.8 1622.2V1610.2M936.7 1042.7V1054.7M936.7 1622.2V1610.2M955.2 1042.7V1054.7M955.2 1622.2V1610.2M973.7 1042.7V1054.7M973.7 1622.2V1610.2M992.2 1042.7V1054.7M992.2 1622.2V1610.2M1029.1 1042.7V1054.7M1029.1 1622.2V1610.2M1047.6 1042.7V1054.7M1047.6 1622.2V1610.2M1066.1 1042.7V1054.7M1066.1 1622.2V1610.2M1084.5 1042.7V1054.7M1084.5 1622.2V1610.2M1121.5 1042.7V1054.7M1121.5 1622.2V1610.2M1140.0 1042.7V1054.7M1140.0 1622.2V1610.2M1158.4 1042.7V1054.7M1158.4 1622.2V1610.2M1176.9 1042.7V1054.7M1176.9 1622.2V1610.2M1213.9 1042.7V1054.7M1213.9 1622.2V1610.2M1232.4 1042.7V1054.7M1232.4 1622.2V1610.2M1250.8 1042.7V1054.7M1250.8 1622.2V1610.2M1269.3 1042.7V1054.7M1269.3 1622.2V1610.2M161.7 1622.2H186.7M161.7 1506.3H186.7M161.7 1390.4H186.7M161.7 1274.5H186.7M161.7 1158.6H186.7M161.7 1042.7H186.7" stroke="#151515" stroke-width="2.4" fill="none"/>
<rect x="186.7" y="1042.7" width="1107.7" height="579.5" fill="none" stroke="#111" stroke-width="3"/>
<text transform="translate(146.2 1637.4) scale(0.96 1.05)" text-anchor="end" class="s">0.0</text>
<text transform="translate(146.2 1521.5) scale(0.96 1.05)" text-anchor="end" class="s">0.2</text>
<text transform="translate(146.2 1405.6) scale(0.96 1.05)" text-anchor="end" class="s">0.4</text>
<text transform="translate(146.2 1289.7) scale(0.96 1.05)" text-anchor="end" class="s">0.6</text>
<text transform="translate(146.2 1173.8) scale(0.96 1.05)" text-anchor="end" class="s">0.8</text>
<text transform="translate(146.2 1057.9) scale(0.96 1.05)" text-anchor="end" class="s">1.0</text>
<text transform="translate(269.6 1698.2) rotate(-45) scale(0.95 1.02)" text-anchor="middle" dy="14.5" class="s">450</text>
<text transform="translate(362.0 1698.2) rotate(-45) scale(0.95 1.02)" text-anchor="middle" dy="14.5" class="s">500</text>
<text transform="translate(454.4 1698.2) rotate(-45) scale(0.95 1.02)" text-anchor="middle" dy="14.5" class="s">550</text>
<text transform="translate(546.7 1698.2) rotate(-45) scale(0.95 1.02)" text-anchor="middle" dy="14.5" class="s">600</text>
<text transform="translate(639.1 1698.2) rotate(-45) scale(0.95 1.02)" text-anchor="middle" dy="14.5" class="s">650</text>
<text transform="translate(731.5 1698.2) rotate(-45) scale(0.95 1.02)" text-anchor="middle" dy="14.5" class="s">700</text>
<text transform="translate(823.9 1698.2) rotate(-45) scale(0.95 1.02)" text-anchor="middle" dy="14.5" class="s">750</text>
<text transform="translate(916.3 1698.2) rotate(-45) scale(0.95 1.02)" text-anchor="middle" dy="14.5" class="s">800</text>
<text transform="translate(1008.6 1698.2) rotate(-45) scale(0.95 1.02)" text-anchor="middle" dy="14.5" class="s">850</text>
<text transform="translate(1101.0 1698.2) rotate(-45) scale(0.95 1.02)" text-anchor="middle" dy="14.5" class="s">900</text>
<text transform="translate(1193.4 1698.2) rotate(-45) scale(0.95 1.02)" text-anchor="middle" dy="14.5" class="s">950</text>
<text transform="translate(1285.8 1710.2) rotate(-45) scale(0.95 1.02)" text-anchor="middle" dy="14.5" class="s">1000</text>
<text x="738.4" y="1022.2" text-anchor="middle" class="s">Normalized Dermatoglyphics(creases)</text>
<text transform="translate(67.0 1333.5) rotate(-90)" text-anchor="middle" class="s" style="font-size:43px">Normalized Intensity</text>
<text x="737.6" y="1797.3" text-anchor="middle" class="s" style="font-size:42.6px">Wavelength (nm)</text>
<text x="16.5" y="29" style="font-family:Liberation Sans,sans-serif;font-weight:bold;font-size:41px;fill:#000;stroke:#000;stroke-width:0.9">a</text>
<text x="15.5" y="1000" style="font-family:Liberation Sans,sans-serif;font-weight:bold;font-size:41px;fill:#000;stroke:#000;stroke-width:0.9">b</text>
<path d="M224 615.2H252M277 615.2H305M330 615.2H359M383 615.2H411M435 615.2H462M221 795.3H246M269 795.3H298M322 795.3H352M374 795.3H403M427 795.3H455M224 633V661M224 684V712M224 736V764M224 786V797.5M459.5 612.5V620M459.5 643V667M459.5 695V723M459.5 746V774" stroke="#4b4bf5" stroke-width="5.5" fill="none" opacity="0.92"/>
<path d="M457.3 489V473.4A12 12 0 0 1 469.3 461.4H476M500 461.4H529.5M548.9 461.4A12 12 0 0 1 560.9 473.4V489M560.9 513V542M560.9 565V594M560.9 618V647M560.9 670V698M560.9 722V750M560.9 775V786A12 12 0 0 1 548.9 798H546M495.5 798H523.7M471 798H469.3A12 12 0 0 1 457.3 786V775M457.3 512.5V544M457.3 563V594M457.3 613V644M457.3 665V697M457.3 718V745" stroke="#f24a4a" stroke-width="5.5" fill="none" opacity="0.92"/>
<text x="513" y="310.7" text-anchor="middle" class="r" style="font-weight:bold;fill:#f28a22;stroke:#f28a22;stroke-width:0.4">Jaundice</text>
<text x="513" y="354.7" text-anchor="middle" class="r">elevates</text>
<text x="513" y="399.6" text-anchor="middle" class="r">between</text>
<text x="513" y="446" text-anchor="middle" class="r">550-600</text>
<text x="513" y="490" text-anchor="middle" class="r">nm</text>
<path d="M1326.5 1799V1810" stroke="#c4c4c4" stroke-width="2"/>
</svg></body></html>
